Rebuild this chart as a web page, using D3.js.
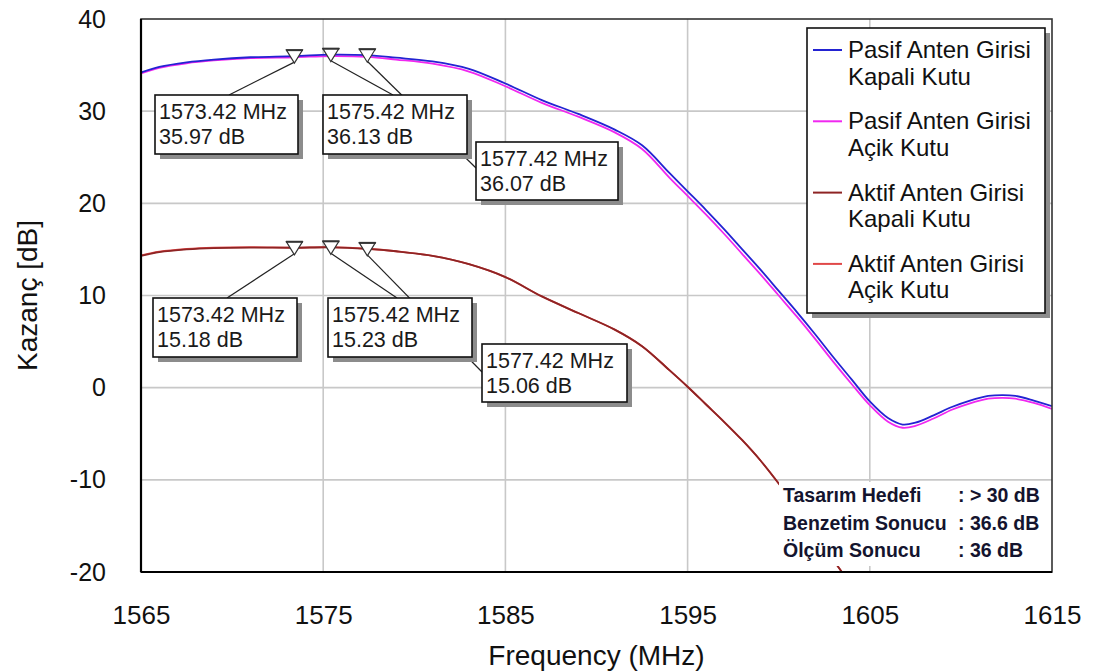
<!DOCTYPE html>
<html>
<head>
<meta charset="utf-8">
<script src="https://cdn.jsdelivr.net/npm/d3@7"></script>
<style>
  html, body { margin: 0; padding: 0; background: #fff; }
  svg { display: block; }
  text { font-family: "Liberation Sans", Arial, sans-serif; }
</style>
</head>
<body>
<svg id="chart" width="1093" height="671"></svg>
<script>
// Frequency sweep (MHz)
const freq = [1565, 1566, 1567.5, 1569, 1571, 1573.42, 1575.42, 1577.42, 1579, 1581, 1583, 1585,
  1587, 1589, 1591, 1592.5, 1594, 1595, 1596, 1597, 1598, 1599, 1600, 1601, 1602, 1603, 1604,
  1605, 1606, 1606.8, 1607.5, 1608.5, 1609.5, 1610.5, 1611.5, 1612.3, 1613, 1614, 1615];

// Gain (dB) per series
const pasifKapali = [34.2, 34.8, 35.3, 35.6, 35.85, 35.97, 36.13, 36.07, 35.8, 35.4, 34.6, 33.0,
  31.2, 29.7, 28.0, 26.3, 23.3, 21.3, 19.3, 17.2, 15.0, 12.8, 10.5, 8.2, 5.8, 3.3, 0.9,
  -1.5, -3.3, -4.0, -3.8, -3.0, -2.1, -1.4, -0.9, -0.8, -0.9, -1.4, -2.0];
const pasifAcik = [34.1, 34.7, 35.2, 35.5, 35.75, 35.85, 35.98, 35.9, 35.6, 35.15, 34.3, 32.7,
  30.9, 29.4, 27.7, 25.9, 22.8, 20.8, 18.8, 16.7, 14.5, 12.3, 10.0, 7.7, 5.3, 2.8, 0.4,
  -1.9, -3.7, -4.35, -4.15, -3.35, -2.4, -1.7, -1.2, -1.1, -1.2, -1.65, -2.3];
const aktifKapali = [14.3, 14.7, 15.0, 15.15, 15.2, 15.18, 15.23, 15.06, 14.8, 14.3, 13.4, 12.0,
  9.9, 8.1, 6.3, 4.5, 1.9, 0.1, -1.8, -3.7, -5.7, -7.9, -10.4, -13.1, -15.9, -18.7, -21.5];
const aktifAcik = [14.35, 14.75, 15.05, 15.2, 15.25, 15.2, 15.24, 15.07, 14.8, 14.3, 13.4, 12.0,
  9.9, 8.1, 6.3, 4.5, 1.9, 0.1, -1.8, -3.7, -5.7, -7.9, -10.4, -13.1, -15.9, -18.7, -21.5];

const seriesNames = ["Pasif Anten Girisi|Kapali Kutu", "Pasif Anten Girisi|Açik Kutu",
  "Aktif Anten Girisi|Kapali Kutu", "Aktif Anten Girisi|Açik Kutu"];
const seriesColors = ["#2323d2", "#f028f0", "#8e2424", "#e04848"];

// Tick values
const xTicks = [1565, 1575, 1585, 1595, 1605, 1615];
const yTicks = [-20, -10, 0, 10, 20, 30, 40];

// Marker readouts
const markerFreqs = [1573.42, 1575.42, 1577.42];
const pasifMarkerVals = [35.97, 36.13, 36.07];
const aktifMarkerVals = [15.18, 15.23, 15.06];

// Summary note
const noteLabels = ["Tasarım Hedefi", "Benzetim Sonucu", "Ölçüm Sonucu"];
const noteValues = [": > 30 dB", ": 36.6 dB", ": 36 dB"];

const svg = d3.select("#chart");
const plot = { left: 141, right: 1052, top: 19, bottom: 572 };

const x = d3.scaleLinear().domain([1565, 1615]).range([plot.left, plot.right]);
const y = d3.scaleLinear().domain([-20, 40]).range([plot.bottom, plot.top]);

// Grid
const grid = svg.append("g");
grid.selectAll("line.gx").data(xTicks.slice(1, -1)).join("line")
  .attr("x1", d => x(d)).attr("x2", d => x(d))
  .attr("y1", plot.top).attr("y2", plot.bottom)
  .attr("stroke", "#c8c8c8").attr("stroke-width", 1.6);
grid.selectAll("line.gy").data(yTicks.slice(1, -1)).join("line")
  .attr("y1", d => y(d)).attr("y2", d => y(d))
  .attr("x1", plot.left).attr("x2", plot.right)
  .attr("stroke", "#c8c8c8").attr("stroke-width", 1.6);

// Axes (labels only; frame drawn separately)
const plainNum = d => String(d);
const xAxis = svg.append("g").attr("transform", `translate(0,${plot.bottom + 31})`)
  .call(d3.axisBottom(x).tickValues(xTicks).tickFormat(plainNum).tickSize(0));
xAxis.select(".domain").remove();
xAxis.selectAll("text").attr("font-size", 26).attr("fill", "#111")
  .attr("font-family", "Liberation Sans, Arial, sans-serif");

const yAxis = svg.append("g").attr("transform", `translate(${plot.left - 32},0)`)
  .call(d3.axisLeft(y).tickValues(yTicks).tickFormat(plainNum).tickSize(0));
yAxis.select(".domain").remove();
yAxis.selectAll("text").attr("font-size", 25).attr("fill", "#111")
  .attr("font-family", "Liberation Sans, Arial, sans-serif");

svg.append("text").attr("x", (plot.left + plot.right) / 2).attr("y", 665)
  .attr("text-anchor", "middle").attr("font-size", 28).attr("fill", "#111")
  .text("Frequency (MHz)");
svg.append("text").attr("transform", `translate(37,${(plot.top + plot.bottom) / 2}) rotate(-90)`)
  .attr("text-anchor", "middle").attr("font-size", 28).attr("fill", "#111")
  .text("Kazanç [dB]");

// Curves
svg.append("clipPath").attr("id", "plotClip").append("rect")
  .attr("x", plot.left).attr("y", plot.top)
  .attr("width", plot.right - plot.left).attr("height", plot.bottom - plot.top);

const line = d3.line().x(d => x(d[0])).y(d => y(d[1])).curve(d3.curveCatmullRom.alpha(0.5));
const curves = svg.append("g").attr("clip-path", "url(#plotClip)");
const seriesData = [pasifKapali, pasifAcik, aktifKapali, aktifAcik];
// draw order: bright red under dark red, magenta under blue
[3, 2, 1, 0].forEach(i => {
  curves.append("path")
    .datum(seriesData[i].map((v, k) => [freq[k], v]))
    .attr("d", line).attr("fill", "none")
    .attr("stroke", seriesColors[i]).attr("stroke-width", 1.8);
});

// Summary note panel (covers the lower right corner of the plot)
const note = svg.append("g");
note.append("rect").attr("x", 779).attr("y", 482).attr("width", plot.right - 780).attr("height", 84)
  .attr("fill", "#fff");
noteLabels.forEach((t, i) => {
  note.append("text").attr("x", 783).attr("y", 502 + i * 27.5)
    .attr("font-family", "Lato, 'Open Sans', sans-serif").attr("font-weight", 700)
    .attr("font-size", 19.5).attr("fill", "#14142e").text(t);
  note.append("text").attr("x", 958).attr("y", 502 + i * 27.5)
    .attr("font-family", "Lato, 'Open Sans', sans-serif").attr("font-weight", 700)
    .attr("font-size", 19.5).attr("fill", "#14142e").text(noteValues[i]);
});

// Marker readouts: leader lines, triangles, boxes
const readoutLayout = [
  { box: [155, 95, 143, 59], anchor: [74, 0] },
  { box: [323, 95, 144, 59], anchor: [70, 0] },
  { box: [476, 142, 142, 58], anchor: [0, 26] }
];
const aktifLayout = [
  { box: [153, 298, 144, 59], anchor: [74, 0] },
  { box: [328, 298, 144, 59], anchor: [69, 0] },
  { box: [482, 344, 145, 58], anchor: [0, 28] }
];

function drawReadouts(vals, layout) {
  const g = svg.append("g");
  const pts = markerFreqs.map((f, i) => [x(f), y(vals[i])]);
  // leaders
  pts.forEach((p, i) => {
    const L = layout[i];
    g.append("line").attr("x1", p[0]).attr("y1", p[1] + 6)
      .attr("x2", L.box[0] + L.anchor[0]).attr("y2", L.box[1] + L.anchor[1])
      .attr("stroke", "#222").attr("stroke-width", 1.2);
  });
  // triangles
  pts.forEach(p => {
    g.append("path")
      .attr("d", `M${p[0] - 8},${p[1] - 6} L${p[0] + 8},${p[1] - 6} L${p[0]},${p[1] + 7} Z`)
      .attr("fill", "#fff").attr("stroke", "#333").attr("stroke-width", 1.2);
    g.append("line").attr("x1", p[0] - 8.5).attr("x2", p[0] + 8.5)
      .attr("y1", p[1] - 6).attr("y2", p[1] - 6)
      .attr("stroke", "#333").attr("stroke-width", 2);
  });
  // boxes
  layout.forEach((L, i) => {
    const [bx, by, bw, bh] = L.box;
    g.append("rect").attr("x", bx + 5).attr("y", by + 5).attr("width", bw).attr("height", bh)
      .attr("fill", "#8c8c8c");
    g.append("rect").attr("x", bx).attr("y", by).attr("width", bw).attr("height", bh)
      .attr("fill", "#fff").attr("stroke", "#111").attr("stroke-width", 1.6);
    g.append("text").attr("x", bx + 4).attr("y", by + 24).attr("font-size", 21.5).attr("fill", "#1a1a1a")
      .text(`${markerFreqs[i].toFixed(2)} MHz`);
    g.append("text").attr("x", bx + 4).attr("y", by + 49).attr("font-size", 21.5).attr("fill", "#1a1a1a")
      .text(`${vals[i].toFixed(2)} dB`);
  });
}
drawReadouts(pasifMarkerVals, readoutLayout);
drawReadouts(aktifMarkerVals, aktifLayout);

// Legend
const legend = svg.append("g");
const lg = { x: 807, y: 28, w: 238, h: 285 };
legend.append("rect").attr("x", lg.x + 5).attr("y", lg.y + 5).attr("width", lg.w).attr("height", lg.h)
  .attr("fill", "#8c8c8c");
legend.append("rect").attr("x", lg.x).attr("y", lg.y).attr("width", lg.w).attr("height", lg.h)
  .attr("fill", "#fff").attr("stroke", "#111").attr("stroke-width", 1.6);
seriesNames.forEach((name, i) => {
  const ly = 50 + i * 71.3;
  legend.append("line").attr("x1", 813).attr("x2", 842).attr("y1", ly).attr("y2", ly)
    .attr("stroke", seriesColors[i]).attr("stroke-width", 2);
  const parts = name.split("|");
  parts.forEach((p, k) => {
    legend.append("text").attr("x", 848).attr("y", ly + 8 + k * 26.5)
      .attr("font-size", 24).attr("fill", "#111").text(p);
  });
});

// Plot frame
svg.append("rect").attr("x", plot.left).attr("y", plot.top)
  .attr("width", plot.right - plot.left).attr("height", plot.bottom - plot.top)
  .attr("fill", "none").attr("stroke", "#333").attr("stroke-width", 1.6);
svg.append("line").attr("x1", plot.left).attr("x2", plot.left)
  .attr("y1", plot.top).attr("y2", plot.bottom).attr("stroke", "#000").attr("stroke-width", 2.2);
svg.append("line").attr("x1", plot.left).attr("x2", plot.right)
  .attr("y1", plot.bottom).attr("y2", plot.bottom).attr("stroke", "#000").attr("stroke-width", 2.2);
</script>
</body>
</html>
